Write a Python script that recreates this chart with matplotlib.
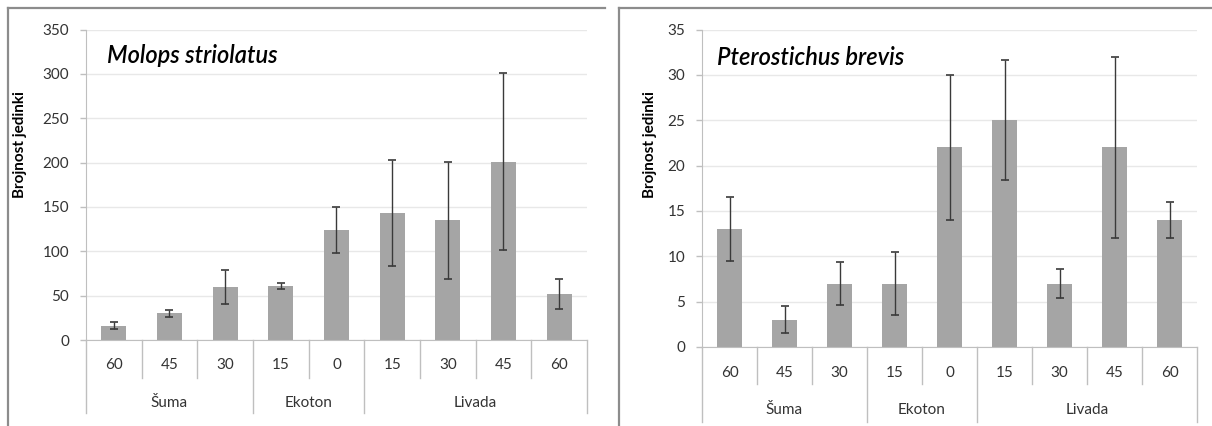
import matplotlib
matplotlib.use("Agg")
import matplotlib.pyplot as plt
from matplotlib.lines import Line2D

plt.rcParams['font.family'] = ['Lato', 'DejaVu Sans']

categories = ['60', '45', '30', '15', '0', '15', '30', '45', '60']
groups = ['Šuma', 'Ekoton', 'Livada']
group_edges = [0, 3, 5, 9]

molops = [16, 30, 60, 61, 124, 143, 135, 201, 52]
molops_err = [4, 4, 19, 3.5, 26, 60, 66, 100, 17]

ptero = [13, 3, 7, 7, 22, 25, 7, 22, 14]
ptero_err = [3.5, 1.5, 2.4, 3.5, 8, 6.6, 1.6, 10, 2]

W, H = 1212, 426
fig = plt.figure(figsize=(W / 100, H / 100), dpi=100)

bar_color = '#a5a5a5'
axis_color = '#bfbfbf'
text_color = '#333333'


def panel(rect, values, errs, ymax, ystep, title, title_xy, ylabel_x,
          cat_line, grp_line, cat_y, grp_y):
    ax = fig.add_axes(rect)
    x = range(len(values))
    ax.bar(x, values, width=0.45, color=bar_color, zorder=2)
    ax.errorbar(x, values, yerr=errs, fmt='none', ecolor='#3a3a3a',
                elinewidth=1, capsize=3, capthick=1.2, zorder=3)
    ax.set_xlim(-0.5, len(values) - 0.5)
    ax.set_ylim(0, ymax)
    ax.set_yticks(range(0, ymax + 1, ystep))
    ax.yaxis.grid(True, color='#e8e8e8', linewidth=1, zorder=0)
    ax.set_axisbelow(True)
    for s in ['top', 'right']:
        ax.spines[s].set_visible(False)
    ax.spines['left'].set_color(axis_color)
    ax.spines['bottom'].set_color(axis_color)
    ax.tick_params(axis='y', colors=axis_color, labelcolor=text_color,
                   length=4, width=1, pad=8, labelsize=11)
    ax.set_xticks([])

    # two-level category axis
    tr = ax.get_xaxis_transform()
    for i in range(len(values) + 1):
        bottom = grp_line if i in group_edges else cat_line
        ax.add_line(Line2D([i - 0.5, i - 0.5], [0, bottom], transform=tr,
                           color=axis_color, linewidth=1, clip_on=False))
    for i, c in enumerate(categories):
        ax.text(i, cat_y, c, transform=tr, ha='center', va='center',
                fontsize=11, color=text_color)
    for g, a, b in zip(groups, group_edges[:-1], group_edges[1:]):
        ax.text((a + b - 1) / 2, grp_y, g, transform=tr, ha='center',
                va='center', fontsize=11, color=text_color)

    fig.text(title_xy[0], title_xy[1], title, fontsize=17, style='italic',
             fontweight='semibold', color='black', va='baseline', ha='left')
    fig.text(ylabel_x, 0.66, 'Brojnost jedinki', rotation=90, fontsize=11,
             fontweight='bold', color='black', ha='center', va='center')
    return ax


# left panel
panel([86 / W, 86 / H, 501 / W, 310.5 / H], molops, molops_err, 350, 50,
      'Molops striolatus', (107 / W, (H - 63) / H), 20 / W,
      -0.122, -0.235, -0.08, -0.203)

# right panel
panel([702 / W, 79 / H, 495 / W, 317.5 / H], ptero, ptero_err, 35, 5,
      'Pterostichus brevis', (717 / W, (H - 65) / H), 650 / W,
      -0.1165, -0.236, -0.082, -0.198)

# chart frames
frame = dict(color='#8c8c8c', linewidth=1.6, transform=fig.transFigure)
fig.add_artist(Line2D([8 / W, 8 / W], [0, (H - 8) / H], **frame))
fig.add_artist(Line2D([8 / W, 605 / W], [(H - 8) / H, (H - 8) / H], **frame))
fig.add_artist(Line2D([619 / W, 619 / W], [0, (H - 8) / H], **frame))
fig.add_artist(Line2D([619 / W, 1.0], [(H - 8) / H, (H - 8) / H], **frame))

fig.savefig('out.png', dpi=100)
